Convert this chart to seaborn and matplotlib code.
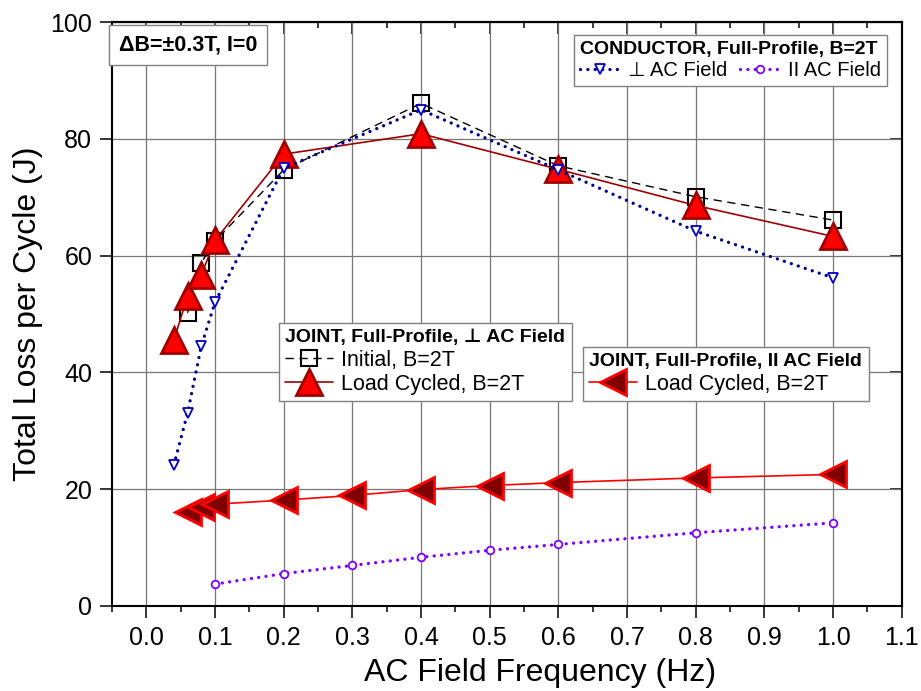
import pandas as pd
import matplotlib
matplotlib.use("Agg")
import matplotlib.pyplot as plt
import seaborn as sns
from matplotlib.ticker import MultipleLocator, FormatStrFormatter

# =========================
# Data
# =========================

freq_cond_perp = [0.04, 0.06, 0.08, 0.1, 0.2, 0.4, 0.6, 0.8, 1.0]
loss_cond_perp = [24.1, 33.0, 44.5, 52.0, 75.0, 85.0, 74.7, 64.2, 56.2]

freq_cond_par = [0.1, 0.2, 0.3, 0.4, 0.5, 0.6, 0.8, 1.0]
loss_cond_par = [3.7, 5.5, 6.9, 8.3, 9.5, 10.5, 12.5, 14.2]

freq_joint_init = [0.06, 0.08, 0.1, 0.2, 0.4, 0.6, 0.8, 1.0]
loss_joint_init = [50.2, 58.8, 62.5, 74.7, 86.1, 75.4, 70.1, 66.1]

freq_joint_perp_lc = [0.04, 0.06, 0.08, 0.1, 0.2, 0.4, 0.6, 0.8, 1.0]
loss_joint_perp_lc = [45.5, 53.0, 56.7, 62.6, 77.4, 80.9, 74.8, 68.6, 63.3]

freq_joint_par_lc = [0.06, 0.08, 0.1, 0.2, 0.3, 0.4, 0.5, 0.6, 0.8, 1.0]
loss_joint_par_lc = [16.1, 16.9, 17.4, 18.1, 18.9, 19.9, 20.6, 21.1, 21.9, 22.5]

x_ticks = [0.0, 0.1, 0.2, 0.3, 0.4, 0.5, 0.6, 0.7, 0.8, 0.9, 1.0, 1.1]
y_ticks = [0, 20, 40, 60, 80, 100]

# =========================
# Style
# =========================

sns.set_style("ticks")
plt.rcParams["font.family"] = ["Liberation Sans", "DejaVu Sans"]
plt.rcParams["axes.linewidth"] = 1.5
plt.rcParams["text.color"] = "black"
plt.rcParams["axes.labelcolor"] = "black"
plt.rcParams["xtick.color"] = "black"
plt.rcParams["ytick.color"] = "black"
plt.rcParams["axes.edgecolor"] = "black"

fig = plt.figure(figsize=(9.21, 6.91), dpi=100)
ax = fig.add_axes([112 / 921, 1 - 605.7 / 691, (901.7 - 112) / 921, (605.7 - 22.3) / 691])

dot_style = (0, (0.01, 2.2))


def frame(x, y):
    return pd.DataFrame({"freq": x, "loss": y})


# Joint, perpendicular, initial
sns.lineplot(
    data=frame(freq_joint_init, loss_joint_init),
    x="freq",
    y="loss",
    ax=ax,
    color="black",
    linewidth=1.0,
    linestyle=(0, (6, 4)),
    marker="s",
    markersize=11,
    markerfacecolor="none",
    markeredgecolor="black",
    markeredgewidth=1.5,
    errorbar=None,
    zorder=3,
)
h_init = ax.lines[-1]

# Joint, perpendicular, load cycled
sns.lineplot(
    data=frame(freq_joint_perp_lc, loss_joint_perp_lc),
    x="freq",
    y="loss",
    ax=ax,
    color="#a00000",
    linewidth=1.2,
    marker="^",
    markersize=19,
    markerfacecolor="#ff0000",
    markeredgecolor="#a00000",
    markeredgewidth=2.0,
    errorbar=None,
    zorder=4,
)
h_perp_lc = ax.lines[-1]

# Joint, parallel, load cycled
sns.lineplot(
    data=frame(freq_joint_par_lc, loss_joint_par_lc),
    x="freq",
    y="loss",
    ax=ax,
    color="#ff0000",
    linewidth=1.2,
    marker="<",
    markersize=19,
    markerfacecolor="#800000",
    markeredgecolor="#ff0000",
    markeredgewidth=2.0,
    errorbar=None,
    zorder=4,
)
h_par_lc = ax.lines[-1]

# Conductor, perpendicular
sns.lineplot(
    data=frame(freq_cond_perp, loss_cond_perp),
    x="freq",
    y="loss",
    ax=ax,
    color="#000090",
    linewidth=2.4,
    linestyle=dot_style,
    dash_capstyle="round",
    marker="v",
    markersize=6.5,
    markerfacecolor="white",
    markeredgecolor="#0000c0",
    markeredgewidth=1.3,
    errorbar=None,
    zorder=5,
)
h_cond_perp = ax.lines[-1]

# Conductor, parallel
sns.lineplot(
    data=frame(freq_cond_par, loss_cond_par),
    x="freq",
    y="loss",
    ax=ax,
    color="#8000ff",
    linewidth=2.4,
    linestyle=dot_style,
    dash_capstyle="round",
    marker="o",
    markersize=5.5,
    markerfacecolor="white",
    markeredgecolor="#8000ff",
    markeredgewidth=1.3,
    errorbar=None,
    zorder=5,
)
h_cond_par = ax.lines[-1]

# =========================
# Axes
# =========================

ax.set_xlim(-0.05, 1.1)
ax.set_ylim(0, 100)
ax.set_xticks(x_ticks)
ax.set_yticks(y_ticks)
ax.xaxis.set_minor_locator(MultipleLocator(0.05))
ax.xaxis.set_major_formatter(FormatStrFormatter("%.1f"))

ax.tick_params(axis="both", which="major", direction="out", length=8.3,
               width=1.1, labelsize=18, pad=6)
ax.tick_params(axis="x", which="minor", direction="out", length=4.3, width=1.1)

ax.grid(True, which="major", color="#777777", linewidth=0.9)
ax.set_axisbelow(True)

for side in ["top", "right"]:
    ax.spines[side].set_visible(True)

top = ax.secondary_xaxis("top")
top.set_xticks(x_ticks)
top.xaxis.set_minor_locator(MultipleLocator(0.05))
top.tick_params(which="major", direction="in", length=8.3, width=1.1, labeltop=False)
top.tick_params(which="minor", direction="in", length=4.3, width=1.1)

right = ax.secondary_yaxis("right")
right.set_yticks(y_ticks)
right.tick_params(which="major", direction="in", length=8.3, width=1.1, labelright=False)

ax.set_xlabel("AC Field Frequency (Hz)", fontsize=23)
ax.xaxis.set_label_coords((540 - 112) / 790, -0.09)
ax.set_ylabel("Total Loss per Cycle (J)", fontsize=23, labelpad=5)

# =========================
# Legends
# =========================

leg_kw = dict(
    loc="upper left",
    frameon=True,
    fancybox=False,
    framealpha=1,
    edgecolor="#808080",
    borderpad=0.3,
    borderaxespad=0,
    handletextpad=0.4,
    labelspacing=0.15,
    alignment="left",
    title_fontproperties={"weight": "bold", "size": 14},
)

leg_cond = ax.legend(
    handles=[h_cond_perp, h_cond_par],
    labels=["\u22a5 AC Field", "II AC Field"],
    title="CONDUCTOR, Full-Profile, B=2T",
    ncol=2,
    columnspacing=0.6,
    handlelength=2.0,
    fontsize=14.5,
    bbox_to_anchor=(574 / 921, 1 - 35 / 691),
    bbox_transform=fig.transFigure,
    **leg_kw,
)
leg_cond.get_frame().set_linewidth(1.0)
ax.add_artist(leg_cond)

leg_perp = ax.legend(
    handles=[h_init, h_perp_lc],
    labels=["Initial, B=2T", "Load Cycled, B=2T"],
    title="JOINT, Full-Profile, \u22a5 AC Field",
    handlelength=2.2,
    fontsize=15.5,
    bbox_to_anchor=(279 / 921, 1 - 323 / 691),
    bbox_transform=fig.transFigure,
    **leg_kw,
)
leg_perp.get_frame().set_linewidth(1.0)
ax.add_artist(leg_perp)

leg_par = ax.legend(
    handles=[h_par_lc],
    labels=["Load Cycled, B=2T"],
    title="JOINT, Full-Profile, II AC Field",
    handlelength=2.2,
    fontsize=15.5,
    bbox_to_anchor=(583 / 921, 1 - 347 / 691),
    bbox_transform=fig.transFigure,
    **leg_kw,
)
leg_par.get_frame().set_linewidth(1.0)

fig.text(
    119 / 921,
    1 - 45 / 691,
    "\u0394B=\u00b10.3T, I=0",
    fontsize=15.5,
    fontweight="bold",
    va="center",
    ha="left",
    bbox=dict(boxstyle="square,pad=0.45", facecolor="white", edgecolor="#808080", linewidth=1.0),
    zorder=10,
)

fig.savefig("out.png", dpi=100)
plt.close(fig)
